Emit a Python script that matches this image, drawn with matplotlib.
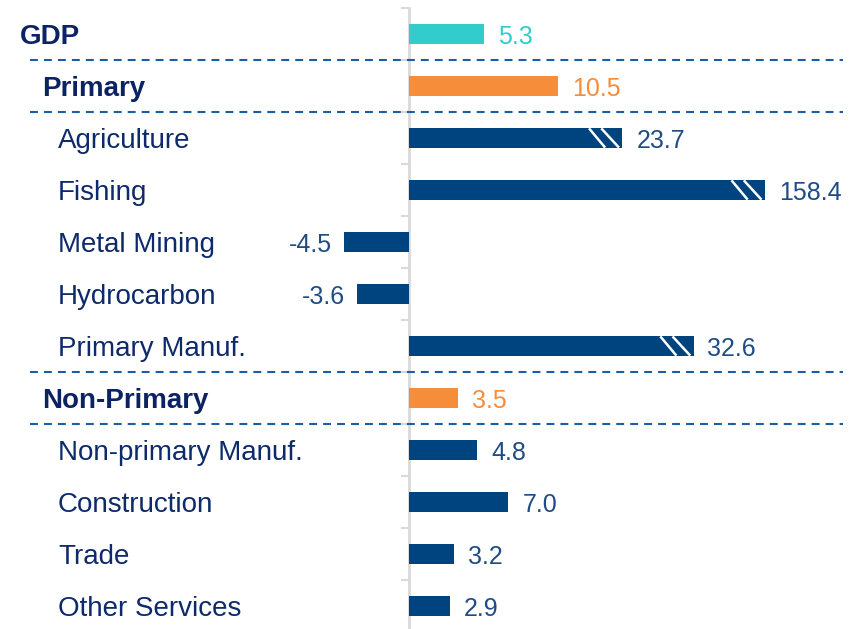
import matplotlib
matplotlib.use("Agg")
import matplotlib.pyplot as plt
import matplotlib.transforms as mtransforms

plt.rcParams['font.family'] = ['Liberation Sans', 'DejaVu Sans']

# ---- data -------------------------------------------------------------
labels = ["GDP", "Primary", "Agriculture", "Fishing", "Metal Mining",
          "Hydrocarbon", "Primary Manuf.", "Non-Primary",
          "Non-primary Manuf.", "Construction", "Trade", "Other Services"]
values = [5.3, 10.5, 23.7, 158.4, -4.5, -3.6, 32.6, 3.5, 4.8, 7.0, 3.2, 2.9]
# 0 = total, 1 = sector aggregate, 2 = sub-sector
level = [0, 1, 2, 2, 2, 2, 2, 1, 2, 2, 2, 2]
# bars cut short on the chart (axis break), shown length in chart units
broken_at = {"Agriculture": 15, "Fishing": 25, "Primary Manuf.": 20}

# ---- styles -----------------------------------------------------------
teal = "#33CCCC"
orange = "#F68D3B"
navy = "#00447F"
bar_colors = {0: teal, 1: orange, 2: navy}
value_colors = {0: teal, 1: orange, 2: "#1F4C85"}
text_colors = {0: "#0B2263", 1: "#0B2263", 2: "#0D2A6A"}
text_weight = {0: "bold", 1: "bold", 2: "normal"}
text_x = {0: 20, 1: 42, 2: 58}   # px from the left edge

W, H = 856, 629
fig = plt.figure(figsize=(W / 100, H / 100), dpi=100)
ax = fig.add_axes([0, 0, 1, 1])

px = 14.25          # px per unit on the value axis
x0 = 408.5          # px position of zero
ax.set_xlim(-x0 / px, (W - x0) / px)
row_px, top_px = 52.0, 34.0
ax.set_ylim((H - top_px) / row_px, -top_px / row_px)

ypos = list(range(len(labels)))
shown = [broken_at.get(l, v) for l, v in zip(labels, values)]
bh = 0.37
ax.barh(ypos, shown, height=bh, color=[bar_colors[k] for k in level],
        zorder=3)

# axis-break stripes on the truncated bars
for i, (lab, s) in enumerate(zip(labels, shown)):
    if lab in broken_at:
        for t_off, b_off in [(2.33, 1.2), (1.47, 0.23)]:
            ax.plot([s - t_off, s - b_off], [i - bh / 2, i + bh / 2],
                    color="white", lw=1.8, zorder=4, solid_capstyle="butt")

# value labels
off = 14 / px
for i, (v, s, k) in enumerate(zip(values, shown, level)):
    if v >= 0:
        ax.text(s + off, i, f"{v:.1f}", ha="left", va="center_baseline",
                fontsize=18, color=value_colors[k])
    else:
        ax.text(s - 12 / px, i, f"{v:.1f}", ha="right", va="center_baseline",
                fontsize=18, color=value_colors[k])

# category labels
trans = mtransforms.blended_transform_factory(ax.transAxes, ax.transData)
for i, (lab, k) in enumerate(zip(labels, level)):
    ax.text(text_x[k] / W, i, lab, transform=trans, ha="left",
            va="center_baseline", fontsize=20, fontweight=text_weight[k],
            color=text_colors[k])

# dashed separators
for yb in [0.5, 1.5, 6.5, 7.5]:
    ax.plot([30 / W, 843 / W], [yb, yb], transform=trans, color="#1A5EA6",
            lw=1.5, dashes=(3.8, 2.9), zorder=5)

# value axis at zero with tick marks between rows
for side in ["top", "right", "bottom"]:
    ax.spines[side].set_visible(False)
ax.spines["left"].set_position(("data", 0))
ax.spines["left"].set_color("#D9D9D9")
ax.spines["left"].set_linewidth(2)
ax.spines["left"].set_bounds(-0.5, 11.6)
ax.set_yticks([i - 0.5 for i in range(len(labels))])
ax.tick_params(axis="y", direction="out", length=6, width=1.5,
               color="#D9D9D9", labelleft=False)
ax.set_xticks([])

fig.savefig("out.png", dpi=100)
